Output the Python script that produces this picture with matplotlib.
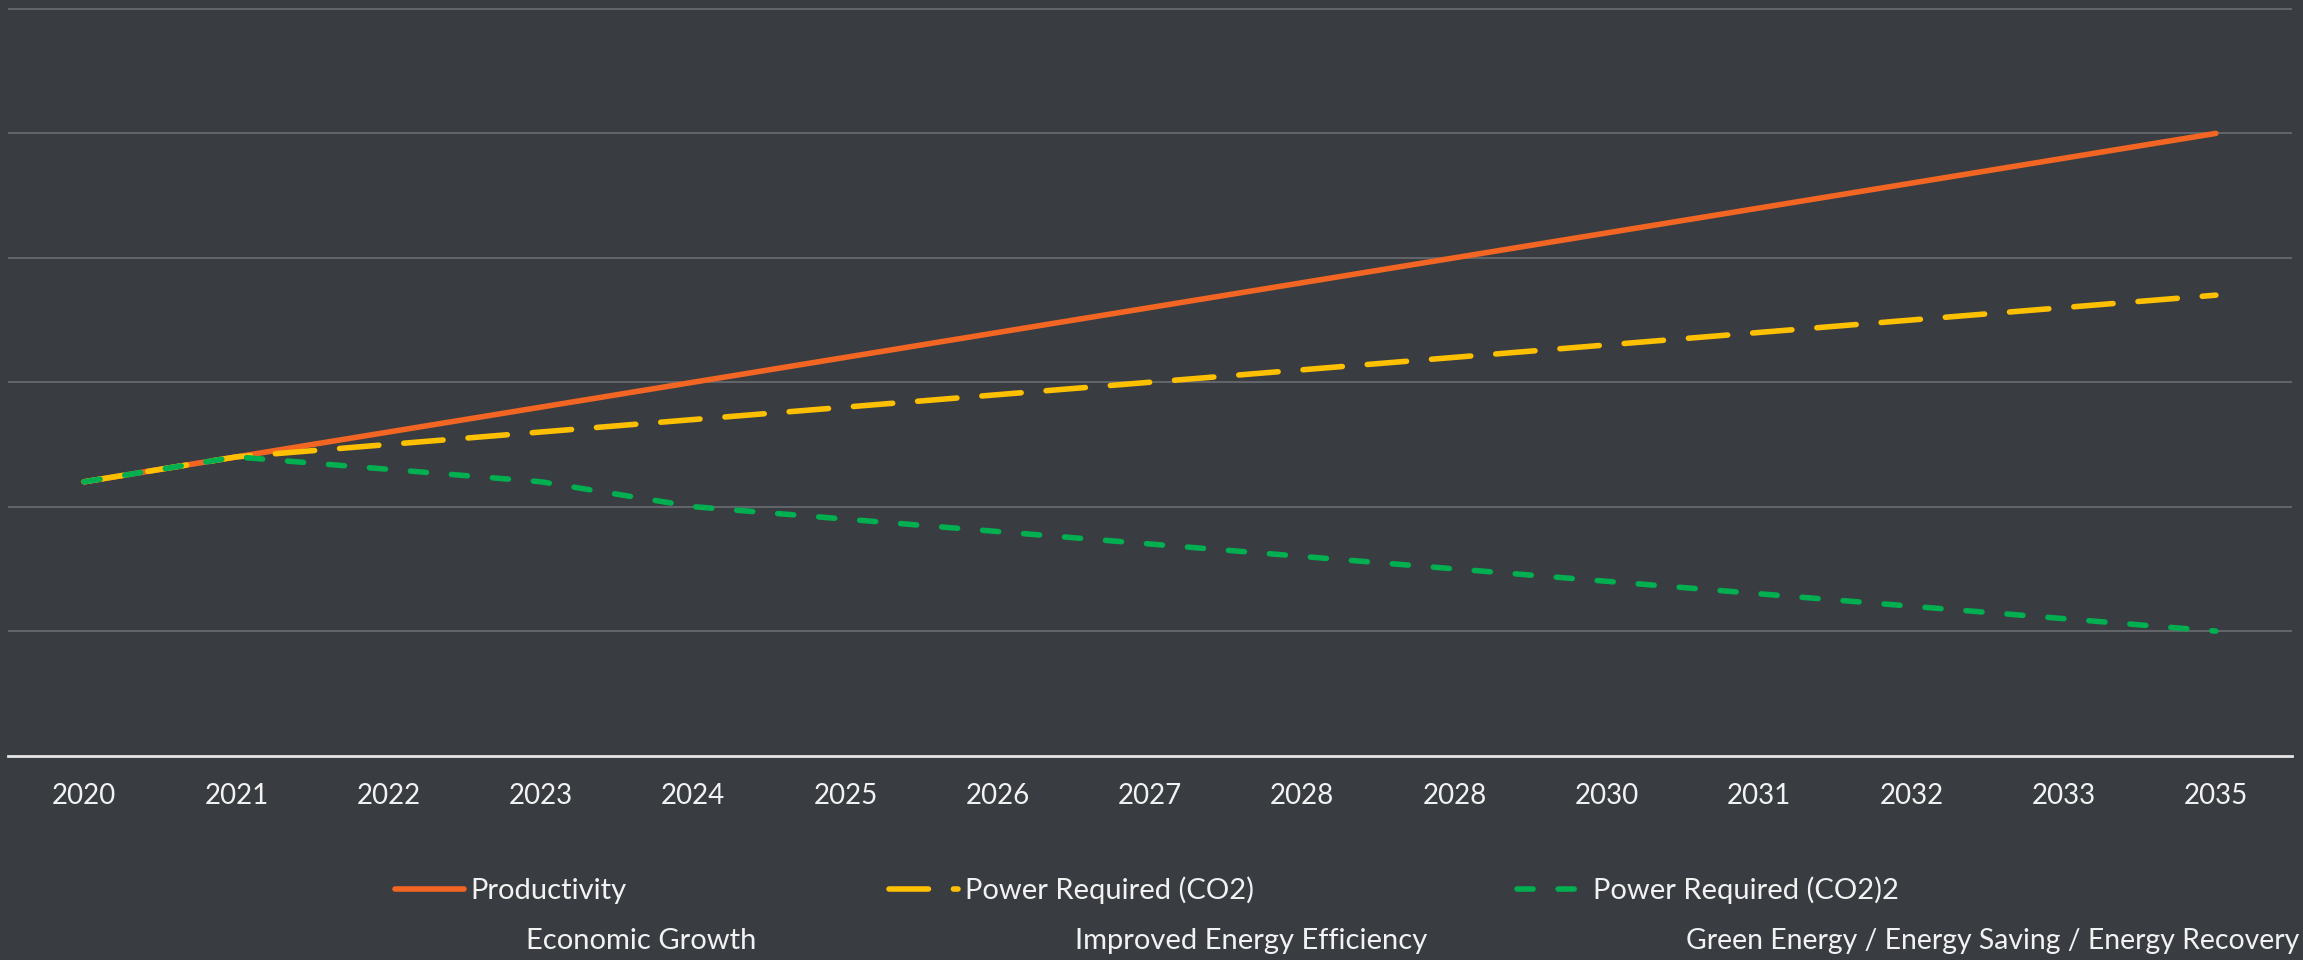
import matplotlib.pyplot as plt
import numpy as np

plt.rcParams['font.family'] = ['Lato', 'DejaVu Sans']

years = ['2020', '2021', '2022', '2023', '2024', '2025', '2026', '2027',
         '2028', '2028', '2030', '2031', '2032', '2033', '2035']
productivity = [2.2, 2.4, 2.6, 2.8, 3.0, 3.2, 3.4, 3.6, 3.8, 4.0, 4.2, 4.4, 4.6, 4.8, 5.0]
power_co2 = [2.2, 2.4, 2.5, 2.6, 2.7, 2.8, 2.9, 3.0, 3.1, 3.2, 3.3, 3.4, 3.5, 3.6, 3.7]
power_co2_2 = [2.2, 2.4, 2.3, 2.2, 2.0, 1.9, 1.8, 1.7, 1.6, 1.5, 1.4, 1.3, 1.2, 1.1, 1.0]
notes = ['Economic Growth', 'Improved Energy Efficiency',
         'Green Energy / Energy Saving / Energy Recovery']

bg = '#393d42'
x = np.arange(len(years))

fig = plt.figure(figsize=(23.03, 9.6), dpi=100, facecolor=bg)
ax = fig.add_axes([8 / 2303, 1 - 755.5 / 960, (2292 - 8) / 2303, (755.5 - 4) / 960])
ax.set_facecolor(bg)

ax.plot(x, productivity, color='#f26522', lw=4, solid_capstyle='round', label='Productivity')
ax.plot(x, power_co2, color='#ffc000', lw=4, linestyle=(0, (7.1, 4.5)),
        dash_capstyle='round', label='Power Required (CO2)')
ax.plot(x, power_co2_2, color='#00b050', lw=4, linestyle=(0, (2.9, 4.5)),
        dash_capstyle='round', label='Power Required (CO2)2')

ax.set_xlim(-0.5, len(years) - 0.5)
ax.set_ylim(0, 6.04)
ax.set_yticks([1, 2, 3, 4, 5, 6])
ax.set_yticklabels([])
ax.yaxis.grid(True, color='#6a6d71', lw=1.2)
ax.set_axisbelow(True)
ax.tick_params(axis='y', length=0)
ax.set_xticks(x)
ax.set_xticklabels(years)
ax.tick_params(axis='x', length=0, pad=20, labelsize=20, labelcolor='#f2f2f2')
for s in ['top', 'right', 'left']:
    ax.spines[s].set_visible(False)
ax.spines['bottom'].set_color('#e6e6e6')
ax.spines['bottom'].set_linewidth(2)

leg = ax.legend(loc='center left', bbox_to_anchor=(395 / 2303, 1 - 890 / 960),
                bbox_transform=fig.transFigure, ncol=3, frameon=False, fontsize=21,
                handlelength=2.36, handletextpad=0.24, columnspacing=9.0,
                borderpad=0, borderaxespad=0, labelcolor='#f2f2f2')

fig.text(526 / 2303, 1 - 941 / 960, notes[0], fontsize=21, color='#f2f2f2', va='center')
fig.text(1075 / 2303, 1 - 941 / 960, notes[1], fontsize=21, color='#f2f2f2', va='center')
fig.text(1686 / 2303, 1 - 941 / 960, notes[2], fontsize=20.4, color='#f2f2f2', va='center')

fig.savefig('out.png', dpi=100, facecolor=bg)
